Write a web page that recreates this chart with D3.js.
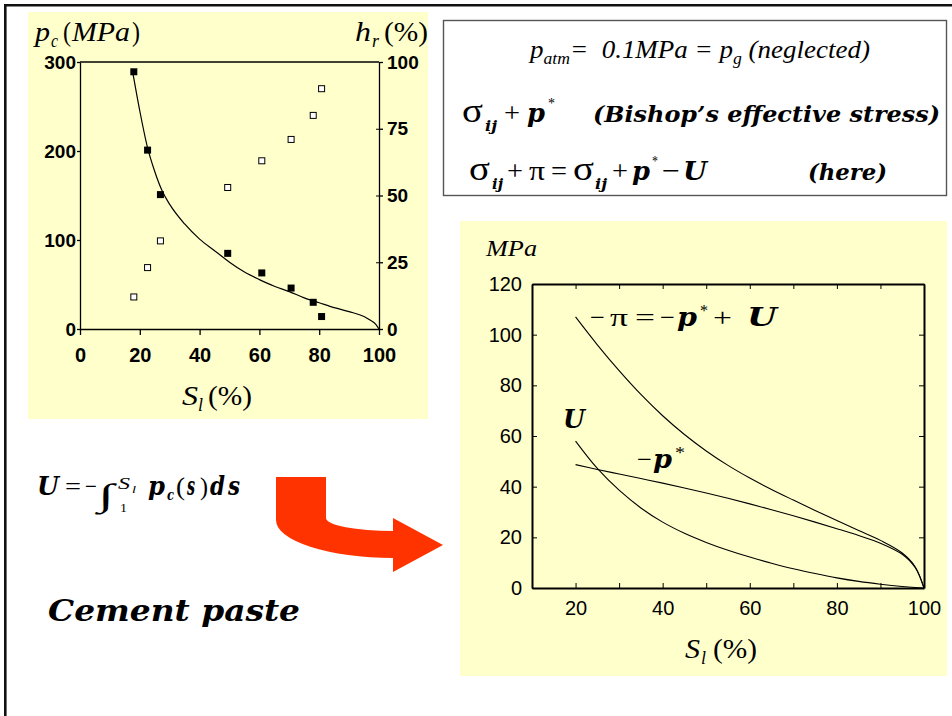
<!DOCTYPE html>
<html>
<head>
<meta charset="utf-8">
<script src="https://cdn.jsdelivr.net/npm/d3@7"></script>
<style>
  body { margin: 0; background: #fff; }
  svg { display: block; }
</style>
</head>
<body>
<div id="slide"></div>
<script>
// ---- data: left chart (measured points + fitted p_c curve)
const sat_pts = [18, 22.6, 26.9, 49.4, 60.8, 70.6, 78, 80.8];
const pc_pts = [289, 201, 151, 85, 63, 46, 30, 14];
const hr_pts = [12, 23, 33, 53, 63, 71, 80, 90];

const fit_sat = [17.5, 20, 22.5, 25, 27.5, 30, 35, 40, 45, 50, 55, 60, 65, 70, 75, 80, 85, 90, 95, 97, 99, 100];
const fit_pc = [291, 245, 205, 177, 155, 140, 118, 101, 88, 75, 64, 55.5, 48, 42, 35, 29.5, 24, 19.5, 14, 10, 5, 0];

// ---- data: right chart (pressures in MPa)
const curve_sat = [20, 25, 30, 35, 40, 45, 50, 55, 60, 65, 70, 75, 80, 85, 90, 95, 98, 100];
const minus_pi = [107, 96, 85.8, 76.4, 68, 60.6, 54.1, 48.4, 43.4, 38.9, 34.7, 30.6, 26.6, 22.7, 18.8, 13.8, 8.3, 0];
const minus_pstar = [48.7, 46.8, 45, 43.2, 41.4, 39.5, 37.5, 35.4, 33.2, 30.9, 28.5, 26, 23.4, 20.7, 17.7, 13.3, 8, 0];
const u_vals = [58, 47.2, 38.6, 31.6, 26, 21.6, 18, 14.9, 12.2, 9.8, 7.6, 5.7, 4, 2.6, 1.5, 0.6, 0.2, 0];

// ---- tick values
const left_x_ticks = [0, 20, 40, 60, 80, 100];
const left_pc_ticks = [0, 100, 200, 300];
const left_hr_ticks = [0, 25, 50, 75, 100];
const right_x_ticks = [20, 30, 40, 50, 60, 70, 80, 90, 100];
const right_y_ticks = [0, 20, 40, 60, 80, 100, 120];

const yellow = "#ffffcc";
const serif = "'Liberation Serif', 'Times New Roman', Times, serif";
const mathBold = "'DejaVu Serif', 'Liberation Serif', serif";
const sans = "'Liberation Sans', Arial, Helvetica, sans-serif";

const svg = d3.select("#slide")
    .append("svg")
    .attr("width", 952)
    .attr("height", 716);

svg.append("rect").attr("width", 952).attr("height", 716).attr("fill", "#fff");

// slide frame (top + left edges)
svg.append("line").attr("x1", 4).attr("x2", 952).attr("y1", 5.3).attr("y2", 5.3)
    .attr("stroke", "#111").attr("stroke-width", 2.6);
svg.append("line").attr("x1", 5.3).attr("x2", 5.3).attr("y1", 4).attr("y2", 716)
    .attr("stroke", "#111").attr("stroke-width", 2.6);

// text helper: x = left edge, w = wanted width (glyphs get squeezed/stretched to it)
function txt(x, y, s, size, o = {}, parent = svg) {
    const t = parent.append("text")
        .attr("x", x).attr("y", y)
        .style("font-family", o.family || serif)
        .style("font-size", size + "px")
        .style("font-style", o.italic ? "italic" : "normal")
        .style("font-weight", o.bold ? "bold" : "normal")
        .style("white-space", "pre")
        .attr("fill", "#000")
        .text(s);
    if (o.w) t.attr("textLength", o.w).attr("lengthAdjust", "spacingAndGlyphs");
    return t;
}
const BI = { family: mathBold, italic: true, bold: true };
const bi = (w) => Object.assign({ w: w }, BI);
const it = (w) => ({ italic: true, w: w });
const rm = (w) => ({ w: w });

// ================= left chart
svg.append("rect").attr("x", 28).attr("y", 12).attr("width", 400).attr("height", 407).attr("fill", yellow);

const lx = d3.scaleLinear().domain([0, 100]).range([80, 379]);
const lpc = d3.scaleLinear().domain([0, 300]).range([329, 62]);
const lhr = d3.scaleLinear().domain([0, 100]).range([329, 62]);

const left_g = svg.append("g");

left_g.append("line").attr("x1", lx(0)).attr("x2", lx(100)).attr("y1", lpc(300)).attr("y2", lpc(300))
    .attr("stroke", "#000").attr("stroke-width", 1.3);

const lxAxis = left_g.append("g")
    .attr("transform", `translate(0,${lpc(0)})`)
    .call(d3.axisBottom(lx).tickValues(left_x_ticks).tickSize(6).tickSizeOuter(0).tickPadding(13));
const lyAxis = left_g.append("g")
    .attr("transform", `translate(${lx(0)},0)`)
    .call(d3.axisLeft(lpc).tickValues(left_pc_ticks).tickSize(3).tickSizeOuter(0).tickPadding(1));
const rAxis = left_g.append("g")
    .attr("transform", `translate(${lx(100)},0)`)
    .call(d3.axisRight(lhr).tickValues(left_hr_ticks).tickSize(4).tickSizeOuter(0).tickPadding(4));
left_g.append("g")
    .attr("transform", `translate(${lx(100)},0)`)
    .call(d3.axisLeft(lhr).tickValues([25, 50, 75]).tickSize(3).tickFormat(""))
    .call(g => g.select(".domain").remove());

[lxAxis, lyAxis, rAxis].forEach(a => {
    a.selectAll("path, line").attr("stroke", "#000").attr("stroke-width", 1.3);
    a.selectAll("text").style("font-family", sans).style("font-weight", "bold").attr("fill", "#000");
});
lxAxis.selectAll("text").style("font-size", "20px");
lyAxis.selectAll("text").style("font-size", "19px");
rAxis.selectAll("text").style("font-size", "19px");

// fitted p_c curve
left_g.append("path")
    .datum(fit_sat.map((s, i) => [s, fit_pc[i]]))
    .attr("fill", "none").attr("stroke", "#000").attr("stroke-width", 1.2)
    .attr("d", d3.line().x(d => lx(d[0])).y(d => lpc(d[1])).curve(d3.curveMonotoneX));

// relative humidity (open squares)
left_g.selectAll(".hr").data(sat_pts).enter().append("rect")
    .attr("class", "hr")
    .attr("x", (d) => lx(d) - 3).attr("y", (d, i) => lhr(hr_pts[i]) - 3)
    .attr("width", 6).attr("height", 6)
    .attr("fill", "#fff").attr("stroke", "#000").attr("stroke-width", 1);

// capillary pressure (filled squares)
left_g.selectAll(".pc").data(sat_pts).enter().append("rect")
    .attr("class", "pc")
    .attr("x", (d) => lx(d) - 3.5).attr("y", (d, i) => lpc(pc_pts[i]) - 3.5)
    .attr("width", 7).attr("height", 7)
    .attr("fill", "#000");

// axis titles
txt(35, 41, "p", 28, it(15));
txt(51, 47, "c", 18, it(7));
txt(63, 41, "(", 27, rm(8));
txt(72, 41, "MPa", 27, it(58));
txt(132, 41, ")", 27, rm(8));
txt(355, 41, "h", 28, it(16));
txt(372, 47, "r", 18, it(7));
txt(384, 41, "(%)", 28, rm(44));
txt(182, 405, "S", 28, it(16));
txt(198, 411, "l", 18, it(5));
txt(208, 405, "(%)", 28, rm(44));

// ================= top formula box
svg.append("rect").attr("x", 443.5).attr("y", 20.5).attr("width", 503).attr("height", 175)
    .attr("fill", "#fff").attr("stroke", "#555").attr("stroke-width", 1.4);

// line 1, laid out piece after piece, then fitted to 530..870
const line1 = svg.append("g");
let cx = 530;
[["p", 26, 0], ["atm", 17, 6], ["=  ", 26, 0], ["0.1MPa", 26, 0], [" = ", 26, 0], ["p", 26, 0], ["g", 17, 6], [" (neglected)", 26, 0]]
    .forEach(([s, size, dy]) => {
        const t = txt(cx, 58 + dy, s, size, { italic: true }, line1);
        cx += t.node().getComputedTextLength();
    });
const k1 = 340 / (cx - 530);
line1.attr("transform", `translate(530,0) scale(${k1},1) translate(-530,0)`);

// line 2
txt(462, 122, "σ", 34, rm(21));
txt(485, 131, "ij", 15, bi(12));
txt(504, 122, "+", 28, rm(16));
txt(527, 122, "p", 26, bi(18));
txt(548, 108, "*", 15, rm(7));
txt(593, 122, "(Bishop’s effective stress)", 22, bi(347));

// line 3
txt(469, 180, "σ", 34, rm(21));
txt(492, 189, "ij", 15, bi(11));
txt(507, 180, "+", 28, rm(16));
txt(529, 180, "π", 28, rm(16));
txt(551, 180, "=", 28, rm(16));
txt(573, 180, "σ", 34, rm(21));
txt(595, 189, "ij", 15, bi(12));
txt(612, 180, "+", 28, rm(16));
txt(632, 180, "p", 26, bi(18));
txt(652, 166, "*", 15, rm(6));
txt(662, 180, "−", 28, rm(18));
txt(683, 180, "U", 26, bi(24));
txt(808, 180, "(here)", 22, bi(79));

// ================= bottom left formula + label + arrow
txt(37, 495, "U", 26, bi(22));
txt(65, 495, "=", 26, rm(16));
txt(85, 495, "−", 26, rm(12));
txt(98, 506, "∫", 32, rm(16));
txt(118, 489, "S", 17, it(12));
txt(132, 493, "l", 11, it(4));
txt(120, 512, "1", 13, rm(7));
txt(148, 495, "p", 26, bi(17));
txt(167, 500, "c", 14, bi(7));
txt(176, 495, "(", 26, rm(9));
txt(187, 495, "s", 26, bi(8));
txt(200, 495, ")", 26, rm(8));
txt(210, 495, "d", 26, bi(15));
txt(228, 495, "s", 26, bi(12));

txt(48, 621, "Cement paste", 30, bi(252));

svg.append("path")
    .attr("d", "M276,477 L326,477 L326,518 A67,13 0 0 0 393,531 L393,518 L443,545 L393,572 L393,558 A117,38 0 0 1 276,520 Z")
    .attr("fill", "#ff3300");

// ================= right chart
svg.append("rect").attr("x", 460).attr("y", 221).attr("width", 487).attr("height", 455).attr("fill", yellow);

const rx = d3.scaleLinear().domain([10, 100]).range([532, 924]);
const ry = d3.scaleLinear().domain([0, 120]).range([588, 284]);

const right_g = svg.append("g");
const fmt20 = d => (d % 20 === 0 ? d : "");

const rb = right_g.append("g").attr("transform", `translate(0,${ry(0)})`)
    .call(d3.axisBottom(rx).tickValues(right_x_ticks).tickFormat(fmt20).tickSize(-5).tickSizeOuter(0).tickPadding(13));
const rt = right_g.append("g").attr("transform", `translate(0,${ry(120)})`)
    .call(d3.axisTop(rx).tickValues(right_x_ticks).tickFormat("").tickSize(-5).tickSizeOuter(0));
const rl = right_g.append("g").attr("transform", `translate(${rx(10)},0)`)
    .call(d3.axisLeft(ry).tickValues(right_y_ticks).tickSize(-5).tickSizeOuter(0).tickPadding(10));
const rr = right_g.append("g").attr("transform", `translate(${rx(100)},0)`)
    .call(d3.axisRight(ry).tickValues(right_y_ticks).tickFormat("").tickSize(-5).tickSizeOuter(0));

[rb, rt, rl, rr].forEach(a => {
    a.selectAll("line").attr("stroke", "#000").attr("stroke-width", 1);
    a.select(".domain").attr("stroke", "#000").attr("stroke-width", 2);
    a.selectAll("text").style("font-family", sans).style("font-size", "20px").attr("fill", "#000");
});

const rline = d3.line().x(d => rx(d[0])).y(d => ry(d[1])).curve(d3.curveCatmullRom.alpha(0.5));
[minus_pi, minus_pstar, u_vals].forEach(vals => {
    right_g.append("path")
        .datum(curve_sat.map((s, i) => [s, vals[i]]))
        .attr("fill", "none").attr("stroke", "#000").attr("stroke-width", 1.1)
        .attr("d", rline);
});

txt(486, 256, "MPa", 24, it(51));
txt(685, 658, "S", 28, it(15));
txt(701, 664, "l", 18, it(5));
txt(713, 658, "(%)", 28, rm(44));

// curve labels
txt(590, 326, "−", 26, rm(15));
txt(610, 326, "π", 26, rm(18));
txt(635, 326, "=", 26, rm(20));
txt(660, 326, "−", 26, rm(15));
txt(677, 326, "p", 26, bi(20));
txt(700, 316, "*", 17, rm(8));
txt(713, 326, "+", 26, rm(19));
txt(747, 326, "U", 26, bi(30));

txt(563, 428, "U", 26, bi(22));

txt(637, 468, "−", 26, rm(15));
txt(653, 468, "p", 26, bi(19));
txt(675, 458, "*", 17, rm(10));
</script>
</body>
</html>
